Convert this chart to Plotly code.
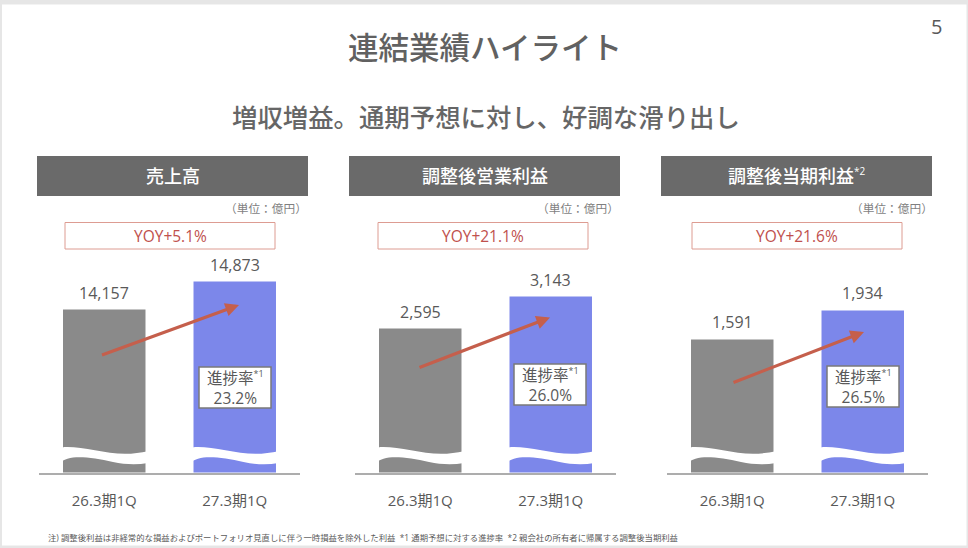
import plotly.graph_objects as go

W, H = 968, 548

categories = ['26.3期1Q', '27.3期1Q']
panel_titles = ['売上高', '調整後営業利益', '調整後当期利益<sup><span style="font-size:10px">*2</span></sup>']
prev_values = [14157, 2595, 1591]
curr_values = [14873, 3143, 1934]
yoy_labels = ['YOY+5.1%', 'YOY+21.1%', 'YOY+21.6%']
progress_labels = ['23.2%', '26.0%', '26.5%']
# broken axis: each panel starts well above zero
y_ranges = [[9990, 15424], [130, 3770], [18, 2530]]

FONT = 'Open Sans, Noto Sans CJK JP'
HEAVY = 'Open Sans, Noto Sans CJK JP Medium, Noto Sans CJK JP'
TEXT = '#595959'
GREY_BAR = '#8a8a8a'
BLUE_BAR = '#7c87ea'
RED = '#c0504d'
ARROW = '#c55f4c'

AXIS_LEFT = [39, 355, 667]
AXIS_WIDTH = 261
AXIS_TOP, AXIS_BOTTOM = 260, 472.5
HEAD_LEFT = [37, 349, 661]
YOY_LEFT = [65, 378, 692]
UNIT_RIGHT = [309, 621, 935]
ARROWS = [(100.5, 355.5, 239, 305), (418, 368, 550, 317.5), (732, 383, 864, 332)]
BOX_LEFT = [199, 514, 827]
BOX_TOP = [367, 364, 366]


def px(x):
    return x / W


def py(y):
    return 1 - y / H


def text(x, y, s, size, color=TEXT, anchor='center', family=FONT):
    fig.add_annotation(xref='paper', yref='paper', x=px(x), y=py(y), text=s, showarrow=False,
                       xanchor=anchor, yanchor='middle', font=dict(family=family, size=size, color=color))


def rect(x0, y0, x1, y1, fill, line=None, width=1):
    fig.add_shape(type='rect', xref='paper', yref='paper', x0=px(x0), x1=px(x1), y0=py(y0), y1=py(y1),
                  fillcolor=fill, line=dict(color=line, width=width if line else 0), layer='above')


def wave(x0):
    # white torn band across a bar, drawn in pixels from the bar's left edge
    pts = [('M', [(-1, 447.4)]),
           ('C', [(16, 445.5), (40, 453.8), (62, 453.8)]),
           ('C', [(70, 453.8), (78, 452.6), (85, 451.2)]),
           ('L', [(85, 463)]),
           ('C', [(74, 465), (62, 464.6), (50, 462)]),
           ('C', [(35, 458.5), (20, 456.4), (10, 457.6)]),
           ('C', [(6, 458.2), (3, 459.4), (-1, 461)]),
           ]
    path = ''
    for cmd, coords in pts:
        path += cmd + ' '.join(f'{px(x0 + a):.5f},{py(b):.5f}' for a, b in coords) + ' '
    fig.add_shape(type='path', xref='paper', yref='paper', path=path + 'Z',
                  fillcolor='white', line=dict(width=0), layer='above')


fig = go.Figure()

layout_axes = {}
for i in range(3):
    suffix = '' if i == 0 else str(i + 1)
    fig.add_trace(go.Bar(x=categories, y=[prev_values[i], curr_values[i]],
                         marker=dict(color=[GREY_BAR, BLUE_BAR], line=dict(width=0)),
                         xaxis='x' + suffix, yaxis='y' + suffix, showlegend=False))
    layout_axes['xaxis' + suffix] = dict(
        domain=[px(AXIS_LEFT[i]), px(AXIS_LEFT[i] + AXIS_WIDTH)], anchor='y' + suffix,
        type='category', range=[-0.5, 1.5], showgrid=False, showline=True,
        linecolor='#adadad', linewidth=1.5, ticks='outside', ticklen=14, tickcolor='rgba(0,0,0,0)',
        tickfont=dict(family=FONT, size=15, color=TEXT))
    layout_axes['yaxis' + suffix] = dict(
        domain=[py(AXIS_BOTTOM), py(AXIS_TOP)], anchor='x' + suffix,
        range=y_ranges[i], visible=False)

fig.update_layout(width=W, height=H, margin=dict(l=0, r=0, t=0, b=0), autosize=False,
                  paper_bgcolor='#e6e6e6', plot_bgcolor='rgba(0,0,0,0)', bargap=0.368,
                  **layout_axes)

# slide background
fig.add_shape(type='rect', xref='paper', yref='paper', x0=px(2), x1=px(966.5), y0=py(4.5), y1=py(545.5),
              fillcolor='white', line=dict(width=0), layer='below')

text(485.5, 47, '連結業績ハイライト', 30.5, '#616161', family=HEAVY)
text(486, 117, '増収増益。通期予想に対し、好調な滑り出し', 25.4, '#666666', family=HEAVY)
text(936, 27, '5', 20)
text(46, 537, '注) 調整後利益は非経常的な損益およびポートフォリオ見直しに伴う一時損益を除外した利益  *1 通期予想に対する進捗率  *2 親会社の所有者に帰属する調整後当期利益',
     8.37, anchor='left')

for i in range(3):
    xa = 'x' + ('' if i == 0 else str(i + 1))
    ya = 'y' + ('' if i == 0 else str(i + 1))

    rect(HEAD_LEFT[i], 156, HEAD_LEFT[i] + 271, 196, '#6a6a6a')
    text(HEAD_LEFT[i] + 135.5, 176, panel_titles[i], 18, 'white', family=HEAVY)
    text(UNIT_RIGHT[i], 208, '（単位：億円）', 11.7, '#7f7f7f', anchor='right')
    rect(YOY_LEFT[i], 222.5, YOY_LEFT[i] + 210, 249, 'white', '#dd9c92', 1)
    text(YOY_LEFT[i] + 105, 236, yoy_labels[i], 15.5, RED, family=HEAVY)

    for cat, val in zip(categories, [prev_values[i], curr_values[i]]):
        fig.add_annotation(xref=xa, yref=ya, x=cat, y=val, text=f'{val:,}', showarrow=False,
                           yanchor='bottom', yshift=4, font=dict(family=HEAVY, size=16, color=TEXT))

    bar_w = AXIS_WIDTH / 2 * (1 - 0.368)
    for offset in (0.25, 0.75):
        wave(AXIS_LEFT[i] + AXIS_WIDTH * offset - bar_w / 2)

    x0, y0, x1, y1 = ARROWS[i]
    fig.add_annotation(xref='paper', yref='paper', axref='pixel', ayref='pixel', x=px(x1), y=py(y1),
                       ax=x0 - x1, ay=y0 - y1, text='', showarrow=True, arrowhead=2, arrowsize=0.85,
                       arrowwidth=3.2, arrowcolor=ARROW)

    rect(BOX_LEFT[i], BOX_TOP[i], BOX_LEFT[i] + 72, BOX_TOP[i] + 41, 'white', '#7a7a7a', 1.5)
    text(BOX_LEFT[i] + 36, BOX_TOP[i] + 21,
         '進捗率<sup><span style="font-size:9px">*1</span></sup><br>' + progress_labels[i], 15.5)

fig.write_html('out.html', config=dict(displayModeBar=False),
               post_script="document.body.style.margin='0';document.body.style.overflow='hidden';")
